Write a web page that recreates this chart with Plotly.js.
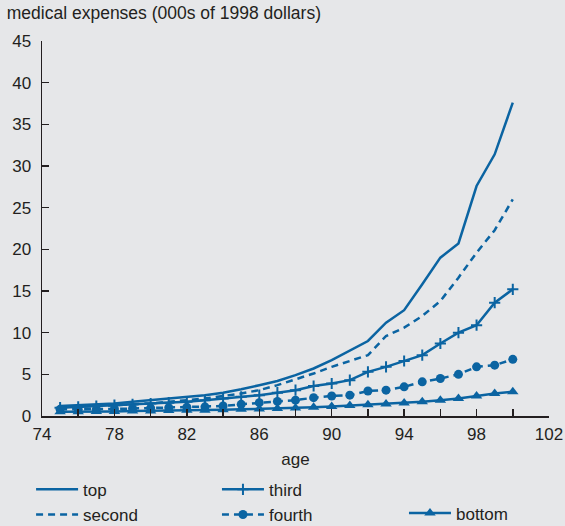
<!DOCTYPE html>
<html>
<head>
<meta charset="utf-8">
<script src="https://cdn.plot.ly/plotly-3.0.1.min.js"></script>
<style>html,body{margin:0;padding:0;background:#e6e7e9;}#chart{width:565px;height:526px;}</style>
</head>
<body>
<div id="chart"></div>
<script>
const ages = [75,76,77,78,79,80,81,82,83,84,85,86,87,88,89,90,91,92,93,94,95,96,97,98,99,100];
const topQ    = [1.2,1.3,1.4,1.5,1.7,1.9,2.1,2.3,2.5,2.8,3.2,3.7,4.2,4.9,5.7,6.7,7.9,9.0,11.2,12.7,15.8,19.0,20.7,27.6,31.4,37.6];
const secondQ = [1.0,1.1,1.2,1.3,1.4,1.5,1.7,1.9,2.1,2.4,2.7,3.1,3.7,4.4,5.1,5.9,6.6,7.3,9.6,10.6,12.0,13.8,16.6,19.6,22.3,26.0];
const thirdQ  = [1.0,1.1,1.2,1.3,1.4,1.5,1.6,1.7,1.9,2.1,2.3,2.5,2.8,3.1,3.6,3.9,4.3,5.3,5.9,6.6,7.3,8.7,10.0,10.9,13.6,15.2];
const fourthQ = [0.8,0.8,0.8,0.85,0.9,0.95,1.0,1.05,1.1,1.2,1.4,1.6,1.75,1.9,2.2,2.4,2.5,3.0,3.1,3.5,4.1,4.5,5.0,5.9,6.1,6.8];
const bottomQ = [0.5,0.5,0.55,0.55,0.6,0.6,0.65,0.7,0.7,0.75,0.8,0.85,0.9,0.95,1.05,1.15,1.25,1.35,1.45,1.55,1.7,1.9,2.1,2.4,2.7,2.9];
const xTickVals = [74,76,78,80,82,84,86,88,90,92,94,96,98,100,102];
const xTickText = ['74','','78','','82','','86','','90','','94','','98','','102'];
const yTickVals = [0,5,10,15,20,25,30,35,40,45];

const C = '#0b64a2';
const txt = '#231f20';
const F = 'Liberation Sans, Arial, sans-serif';

const traces = [
  {x: ages, y: topQ, name: 'top', mode: 'lines', line: {color: C, width: 2.5}, legend: 'legend'},
  {x: ages, y: secondQ, name: 'second', mode: 'lines', line: {color: C, width: 2.5, dash: '7px,5px'}, legend: 'legend'},
  {x: ages, y: thirdQ, name: 'third', mode: 'lines+markers', line: {color: C, width: 2.5},
   marker: {symbol: 'cross-thin', size: 8, color: C, line: {color: C, width: 2}}, legend: 'legend2'},
  {x: ages, y: fourthQ, name: 'fourth', mode: 'lines+markers', line: {color: C, width: 2.5, dash: '7px,5px'},
   marker: {symbol: 'circle', size: 9, color: C}, legend: 'legend2'},
  {x: ages, y: bottomQ, name: 'bottom', mode: 'lines+markers', line: {color: C, width: 2.5},
   marker: {symbol: 'triangle-up', size: 10, color: C}, legend: 'legend3'}
];

const legendBase = {orientation: 'v', bgcolor: 'rgba(0,0,0,0)', font: {family: F, size: 17, color: txt},
  itemwidth: 42, tracegroupgap: 0, yanchor: 'top', xanchor: 'left', xref: 'container', yref: 'container'};

const layout = {
  width: 565, height: 526,
  paper_bgcolor: '#e6e7e9', plot_bgcolor: '#e6e7e9',
  margin: {l: 42, r: 16, t: 41, b: 110, autoexpand: false},
  font: {family: F, size: 17, color: txt},
  title: {text: 'medical expenses (000s of 1998 dollars)', xref: 'container', yref: 'container',
          x: 0.012, xanchor: 'left', y: 0.988, yanchor: 'top', font: {family: F, size: 17.5, color: txt}},
  xaxis: {range: [74, 102], tickvals: xTickVals, ticktext: xTickText, ticks: 'inside', ticklen: 7,
          tickwidth: 1.5, tickcolor: '#231f20', showline: true, linecolor: '#231f20', linewidth: 1.5,
          showgrid: false, zeroline: false, automargin: false, ticklabelstandoff: 2,
          tickfont: {family: F, size: 17, color: txt},
          title: {text: 'age', font: {family: F, size: 17, color: txt}, standoff: 10}},
  yaxis: {range: [0, 45], tickvals: yTickVals, ticks: 'inside', ticklen: 7, tickwidth: 1.5,
          tickcolor: '#231f20', showline: true, linecolor: '#231f20', linewidth: 1.5, automargin: false,
          showgrid: false, zeroline: false, ticklabelstandoff: 6, tickfont: {family: F, size: 17, color: txt}},
  legend: Object.assign({}, legendBase, {x: 0.055, y: 0.103}),
  legend2: Object.assign({}, legendBase, {x: 0.384, y: 0.103}),
  legend3: Object.assign({}, legendBase, {x: 0.715, y: 0.058}),
  showlegend: true
};

Plotly.newPlot('chart', traces, layout, {displayModeBar: false, staticPlot: true});
</script>
</body>
</html>
